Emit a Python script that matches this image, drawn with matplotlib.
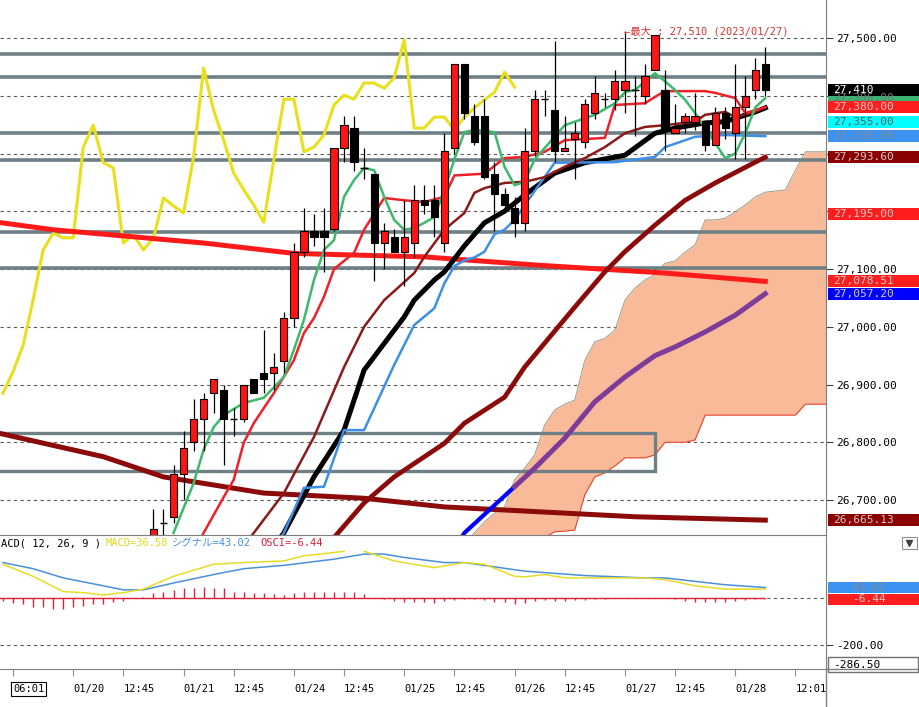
import matplotlib
matplotlib.use('Agg')
import matplotlib.pyplot as plt
from matplotlib.patches import Rectangle
from matplotlib.lines import Line2D
from matplotlib.transforms import blended_transform_factory

plt.rcParams['font.family'] = ['DejaVu Sans Mono', 'Noto Sans CJK JP']

# Candles (bar index 15 .. 76)
first_bar = 15
opens = [26620, 26660, 26670, 26745, 26800, 26840, 26885, 26890, 26840, 26840, 26910, 26920, 26920, 26940,
         27015, 27130, 27165, 27165, 27170, 27310, 27345, 27275, 27265, 27145, 27155, 27130, 27145, 27220,
         27220, 27145, 27310, 27455, 27365, 27365, 27265, 27230, 27205, 27180, 27305, 27395, 27375, 27305,
         27325, 27320, 27370, 27395, 27395, 27410, 27410, 27400, 27445, 27410, 27335, 27355, 27355, 27355,
         27315, 27370, 27335, 27380, 27410, 27455]
highs = [26685, 26685, 26760, 26820, 26875, 26885, 26910, 26900, 26860, 26900, 26910, 26995, 26955, 27025,
         27145, 27205, 27195, 27205, 27310, 27365, 27365, 27310, 27265, 27180, 27170, 27220, 27245, 27245,
         27245, 27335, 27455, 27455, 27385, 27395, 27285, 27240, 27225, 27345, 27410, 27410, 27495, 27365,
         27355, 27395, 27435, 27405, 27445, 27510, 27435, 27455, 27505, 27445, 27385, 27370, 27405, 27355,
         27380, 27380, 27455, 27435, 27465, 27485]
lows = [26615, 26620, 26660, 26700, 26785, 26785, 26850, 26760, 26810, 26835, 26885, 26885, 26890, 26920,
        27000, 27120, 27140, 27095, 27165, 27285, 27270, 27255, 27080, 27100, 27130, 27070, 27120, 27195,
        27155, 27130, 27300, 27360, 27315, 27255, 27165, 27200, 27155, 27165, 27295, 27365, 27285, 27305,
        27255, 27310, 27360, 27380, 27375, 27370, 27330, 27385, 27445, 27305, 27335, 27335, 27340, 27305,
        27315, 27325, 27290, 27290, 27395, 27400]
closes = [26650, 26660, 26745, 26790, 26840, 26875, 26910, 26840, 26840, 26900, 26885, 26910, 26930, 27015,
          27130, 27165, 27155, 27155, 27310, 27350, 27285, 27275, 27145, 27165, 27130, 27155, 27220, 27210,
          27190, 27305, 27455, 27370, 27320, 27260, 27230, 27210, 27180, 27305, 27395, 27395, 27305, 27310,
          27335, 27385, 27405, 27395, 27425, 27425, 27410, 27435, 27505, 27340, 27345, 27365, 27365, 27315,
          27370, 27345, 27380, 27400, 27445, 27410]

# Overlay line (yellow), one value per bar from bar 0
yellow_vals = [26885, 26922, 26968, 27046, 27133, 27162, 27154, 27154, 27311, 27349, 27284, 27275, 27145,
               27159, 27133, 27154, 27223, 27209, 27197, 27294, 27448, 27375, 27323, 27266, 27237, 27211,
               27181, 27289, 27394, 27394, 27303, 27311, 27332, 27384, 27401, 27394, 27422, 27422, 27413,
               27431, 27497, 27344, 27344, 27363, 27363, 27341, 27363, 27379, 27393, 27406, 27441, 27415]

# Moving averages read at bar positions
red_long_bars = [-1, 5, 20, 29, 42, 53, 66, 76]
red_long_vals = [27182, 27168, 27145, 27127, 27121, 27107, 27093, 27078.51]
dkred_long_bars = [-1, 10, 16, 26, 36, 44, 53, 63, 76]
dkred_long_vals = [26818, 26775, 26740, 26712, 26703, 26688, 26680, 26671, 26665.13]
dkred_mid_bars = [32, 36, 39, 44, 46, 50, 52, 57, 60, 62, 65, 68, 71, 75, 76]
dkred_mid_vals = [26615, 26695, 26740, 26798, 26833, 26878, 26930, 27034, 27095, 27130, 27176, 27219, 27249,
                  27285, 27293.60]
purple_bars = [51, 53, 56, 59, 62, 65, 67, 70, 73, 76]
purple_vals = [26723, 26755, 26807, 26870, 26913, 26950, 26965, 26991, 27020, 27057.20]
blue_bars = [45, 46, 51]
blue_vals = [26615, 26643, 26723]
black_bars = [27, 28, 31, 34, 36, 40, 41, 43, 44, 46, 48, 50, 52, 55, 58, 62, 65, 67, 70, 72, 73, 75, 76]
black_vals = [26620, 26643, 26740, 26821, 26925, 27017, 27046, 27081, 27095, 27140, 27180, 27200, 27228,
              27266, 27284, 27297, 27335, 27344, 27353, 27355, 27361, 27372, 27379]
ltblue_bars = [27, 28, 30, 32, 34, 36, 39, 41, 43, 44, 45, 46, 47, 48, 49, 50, 51, 52, 53, 55, 61, 65, 66,
               69, 72, 76]
ltblue_vals = [26620, 26643, 26721, 26723, 26821, 26821, 26934, 27003, 27032, 27075, 27105, 27115, 27120,
               27130, 27160, 27168, 27185, 27210, 27235, 27284, 27285, 27294, 27311, 27329, 27332, 27330]
redmid_bars = [19, 20, 22, 23, 24, 25, 27, 29, 30, 31, 32, 33, 35, 36, 38, 40, 42, 44, 45, 48, 50, 52, 54,
               56, 60, 61, 64, 65, 66, 70, 71, 73, 74, 76]
redmid_vals = [26610, 26643, 26705, 26735, 26799, 26833, 26885, 26942, 26989, 27015, 27052, 27100, 27128,
               27168, 27223, 27219, 27216, 27225, 27262, 27265, 27292, 27294, 27303, 27323, 27327, 27384,
               27387, 27398, 27408, 27408, 27405, 27396, 27370, 27380]
green_bars = [17, 19, 20, 21, 22, 24, 26, 28, 29, 30, 31, 32, 33, 34, 35, 36, 37, 38, 39, 40, 41, 42, 43,
              44, 45, 46, 47, 49, 50, 51, 52, 53, 55, 56, 57, 59, 61, 62, 63, 65, 66, 67, 68, 69, 71, 72,
              73, 74, 75, 76]
green_vals = [26643, 26729, 26787, 26826, 26847, 26868, 26877, 26913, 26960, 27012, 27081, 27133, 27150,
              27225, 27254, 27275, 27271, 27225, 27185, 27168, 27171, 27180, 27190, 27237, 27290, 27337,
              27341, 27337, 27277, 27245, 27251, 27290, 27329, 27349, 27355, 27367, 27387, 27406, 27410,
              27439, 27425, 27410, 27393, 27370, 27318, 27292, 27300, 27335, 27380, 27396]
dkred_thin_bars = [24, 25, 28, 31, 34, 36, 38, 41, 42, 44, 46, 47, 48, 50, 52, 54, 56, 58, 60, 62, 64, 66,
                   68, 69, 70, 72, 73, 75, 76]
dkred_thin_vals = [26620, 26643, 26712, 26809, 26930, 27000, 27046, 27093, 27121, 27168, 27197, 27232,
                   27240, 27249, 27251, 27259, 27277, 27292, 27311, 27335, 27346, 27349, 27353, 27355, 27367,
                   27372, 27363, 27372, 27380]

# Ichimoku cloud (runs ahead of the last bar)
cloud_bars = list(range(46, 83))
cloud_upper = [26625, 26643, 26662, 26677, 26688, 26735, 26755, 26778, 26830, 26856, 26866, 26873, 26942,
               26974, 26980, 26994, 27046, 27067, 27081, 27090, 27110, 27114, 27129, 27142, 27185, 27185,
               27188, 27199, 27211, 27225, 27233, 27235, 27237, 27271, 27303, 27303, 27303]
cloud_lower = [26590, 26600, 26610, 26615, 26620, 26625, 26630, 26632, 26635, 26645, 26646, 26648, 26709,
               26740, 26747, 26759, 26773, 26773, 26773, 26778, 26800, 26800, 26800, 26804, 26847, 26847,
               26847, 26847, 26847, 26847, 26847, 26847, 26847, 26847, 26866, 26866, 26866]

# Horizontal levels and box
levels = [27472, 27432, 27335, 27289, 27164, 27102]
box_bottom, box_top, box_end_bar = 26750, 26816, 65

# Right-side value tags: (value, text, face, text colour)
tags = [
    (27396, '27,396.00', '#3CB371', '#777777'),
    (27410, '27,410', '#000000', '#FFFFFF'),
    (27380, '27,380.00', '#FF1E1E', '#D8C8C8'),
    (27355, '27,355.00', '#00FFFF', '#606060'),
    (27330, '27,330.00', '#3A93F0', '#8A8A8A'),
    (27293.60, '27,293.60', '#8B0000', '#D0C8C8'),
    (27195, '27,195.00', '#FF1E1E', '#D8C8C8'),
    (27078.51, '27,078.51', '#FF1E1E', '#D8C8C8'),
    (27057.20, '27,057.20', '#0000FF', '#D0D0E0'),
    (26665.13, '26,665.13', '#8B0000', '#D0C8C8'),
]

# MACD panel
macd_bars = [0, 3, 6, 8, 10, 12, 14, 17, 21, 24, 28, 30, 34, 35, 36, 39, 43, 46, 48, 51, 52, 54, 56, 64,
             66, 69, 72, 74, 76]
macd_vals = [141.3, 90.7, 25.9, 21.6, 11.7, 21.6, 36.3, 90.7, 141.3, 148.6, 155.5, 177.1, 196.1, None,
             196.1, 155.5, 127.0, 148.6, 141.3, 90.7, 88.1, 98.0, 83.8, 83.8, 76.5, 50.5, 36.3, 36.3, 36.58]
signal_bars = [0, 3, 6, 10, 12, 14, 17, 21, 24, 28, 33, 36, 38, 40, 44, 46, 52, 58, 64, 66, 69, 72, 76]
signal_vals = [148.6, 122.7, 83.8, 50.5, 33.3, 33.3, 62.2, 98.0, 122.7, 136.9, 162.9, 184.4, 184.4, 170.2,
               148.6, 148.6, 112.3, 93.7, 83.8, 83.8, 69.1, 54.9, 43.02]
osci_vals = [-13, -21.6, -27, -39, -39, -47.5, -47.5, -39, -36, -27, -24.5, -17, -13, -2, 2,
             18.7, 26, 33, 40, 40, 44.6, 40, 40, 26, 23, 18.7, 18.7, 15.8, 11.5, 18.7, 23, 23, 23, 23,
             26, 23, 15.8, 1, -4, -13, -17, -17, -17, -21.6, -13, -8, -4, -6, -10, -17, -17, -24.5,
             -21.6, -13, -10, -13, -13, -10, -10, -7, -4, -3, -2, -1, 1, -1, -3, -5, -13, -17, -17,
             -17, -17, -13, -10, -7, -6.44]

tick_bars = [1, 7, 12, 18, 23, 29, 34, 40, 45, 51, 56, 62, 67, 73, 79]
tick_labels = ['06:01', '01/20', '12:45', '01/21', '12:45', '01/24', '12:45', '01/25', '12:45', '01/26',
               '12:45', '01/27', '12:45', '01/28', '12:01']
price_ticks = list(range(26700, 27600, 100))
price_labels = ['26,700.00', '26,800.00', '26,900.00', '27,000.00', '27,100.00', '', '', '', '27,500.00']

W, H = 920.0, 707.0
fig = plt.figure(figsize=(9.2, 7.07), dpi=100)
ax = fig.add_axes([0, 1 - 535 / H, 826 / W, 535 / H])
mx = fig.add_axes([0, 1 - 669 / H, 826 / W, (669 - 535) / H])
xlim = (-0.3, 82.05)
axis_col = '#7F7F7F'
grid_col = '#5A5A5A'

# ---- price panel ----
ax.set_xlim(*xlim)
ax.set_ylim(26639.4, 27565.8)
for p in price_ticks:
    ax.axhline(p, color=grid_col, lw=0.8, ls=(0, (3, 3)), zorder=0.5)

ax.fill_between(cloud_bars, cloud_lower, cloud_upper, color='#F9BA9A', lw=0, zorder=1)
ax.plot(cloud_bars, cloud_upper, color='#9C9C82', lw=0.7, zorder=1.1)
ax.plot(cloud_bars, cloud_lower, color='#E23A2A', lw=0.7, zorder=1.1)

for lvl in levels:
    ax.axhline(lvl, color='#6E7F86', lw=2.6, zorder=2)
ax.add_patch(Rectangle((-5, box_bottom), box_end_bar + 5, box_top - box_bottom, fill=False,
                       edgecolor='#6E7F86', lw=2.4, zorder=2))

ax.plot(range(len(yellow_vals)), yellow_vals, color='#E8E01C', lw=2.2, zorder=3)
ax.plot(red_long_bars, red_long_vals, color='#FF1A1A', lw=3.6, zorder=3)
ax.plot(dkred_long_bars, dkred_long_vals, color='#8B0A0A', lw=3.6, zorder=3)
ax.plot(blue_bars, blue_vals, color='#0000FF', lw=3.0, zorder=3)
ax.plot(purple_bars, purple_vals, color='#7D3C98', lw=3.6, zorder=3)
ax.plot(dkred_mid_bars, dkred_mid_vals, color='#8B0A0A', lw=3.4, zorder=3)
ax.plot(black_bars, black_vals, color='black', lw=3.6, zorder=3)
ax.plot(ltblue_bars, ltblue_vals, color='#3D8FE8', lw=1.8, zorder=3)
ax.plot(dkred_thin_bars, dkred_thin_vals, color='#8B1A1A', lw=1.8, zorder=3)
ax.plot(redmid_bars, redmid_vals, color='#F0202A', lw=1.8, zorder=3)
ax.plot(green_bars, green_vals, color='#3CB96A', lw=1.8, zorder=3)

bw = 0.72
for i, (o, h, l, c) in enumerate(zip(opens, highs, lows, closes)):
    k = first_bar + i
    ax.vlines(k, l, h, color='black', lw=0.9, zorder=5)
    if o == c:
        ax.hlines(o, k - bw / 2, k + bw / 2, color='black', lw=1.0, zorder=6)
    else:
        face = '#FF1414' if c > o else 'black'
        ax.add_patch(Rectangle((k - bw / 2, min(o, c)), bw, abs(c - o), facecolor=face,
                               edgecolor='black', lw=0.8, zorder=6))

ax.text(61.9, 27512, '←最大 : 27,510 (2023/01/27)', color='#D83434', fontsize=7.5,
        ha='left', va='center', zorder=7)

for s in ['left', 'top', 'bottom']:
    ax.spines[s].set_visible(False)
ax.spines['right'].set_color(axis_col)
ax.set_xticks([])
ax.yaxis.tick_right()
ax.set_yticks(price_ticks)
ax.set_yticklabels(price_labels)
ax.tick_params(axis='y', length=5, width=0.8, color='#404040', pad=2, labelsize=8)

tr = blended_transform_factory(ax.transAxes, ax.transData)
box_w = 91 / 826
tag_h = 12 / 0.5775
for val, txt, face, tcol in tags:
    patch = Rectangle((1.002, val - tag_h / 2), box_w, tag_h, transform=tr, facecolor=face,
                      edgecolor='none', clip_on=False, zorder=8)
    ax.add_patch(patch)
    t = ax.text(1.0 + 7 / 826, val, txt, transform=tr, color=tcol, fontsize=8, ha='left', va='center',
                zorder=9)
    t.set_clip_path(patch)

# ---- MACD panel ----
mx.set_xlim(*xlim)
mx.set_ylim(-301, 265)
mx.axhline(0, color=grid_col, lw=0.8, ls=(0, (3, 3)), zorder=0.5)
mx.axhline(-200, color=grid_col, lw=0.8, ls=(0, (3, 3)), zorder=0.5)
mx.hlines(0, -1, first_bar + len(opens) - 1, color='#E0203A', lw=1.0, zorder=1)
mx.vlines(range(len(osci_vals)), 0, osci_vals, color='#E0203A', lw=1.0, zorder=1)
mx.plot(signal_bars, signal_vals, color='#4A90D9', lw=1.1, zorder=2)
mx.plot(macd_bars, [float('nan') if v is None else v for v in macd_vals], color='#E6DC28', lw=1.1, zorder=3)

mx.spines['left'].set_visible(False)
for s in ['top', 'bottom', 'right']:
    mx.spines[s].set_color(axis_col)
mx.yaxis.tick_right()
mx.set_yticks([-200])
mx.set_yticklabels(['-200.00'])
mx.tick_params(axis='y', length=5, width=0.8, color='#404040', pad=2, labelsize=8)
mx.set_xticks(tick_bars)
mx.set_xticklabels(tick_labels, ha='left')
mx.tick_params(axis='x', length=5, width=0.8, color='#909090', pad=6, labelsize=7.5)
mx.get_xticklabels()[0].set_bbox(dict(facecolor='none', edgecolor='black', pad=1.5, lw=0.8))

trm = blended_transform_factory(mx.transAxes, mx.transData)
mtag_h = 11 / 0.2365
for val, txt, face, tcol in [(43.02, '43.02', '#3A93F0', '#8A8A8A'), (-6.44, '-6.44', '#FF1E1E', '#D8C8C8')]:
    mx.add_patch(Rectangle((1.002, val - mtag_h / 2), box_w, mtag_h, transform=trm, facecolor=face,
                           edgecolor='none', clip_on=False, zorder=8))
    mx.text(1.0 + 26 / 826, val, txt, transform=trm, color=tcol, fontsize=8, ha='left', va='center',
            clip_on=False, zorder=9)

# bottom value box and dropdown icon
fig.patches.append(Rectangle((828 / W, 1 - 672 / H), 90 / W, 15 / H, transform=fig.transFigure,
                             facecolor='white', edgecolor='#707070', lw=1))
fig.text(833 / W, 1 - 665 / H, '-286.50', fontsize=8, ha='left', va='center')
fig.patches.append(Rectangle((902 / W, 1 - 549 / H), 15 / W, 12 / H, transform=fig.transFigure,
                             facecolor='white', edgecolor='#909090', lw=0.8))
fig.lines.append(Line2D([909.5 / W], [1 - 543 / H], marker='v', markersize=5, color='#404040',
                        transform=fig.transFigure))
fig.lines.append(Line2D([826 / W, 826 / W], [0, 1 - 669 / H], color=axis_col, lw=1,
                        transform=fig.transFigure))
fig.lines.append(Line2D([826 / W, 1], [1 - 669 / H, 1 - 669 / H], color=axis_col, lw=1,
                        transform=fig.transFigure))

# MACD header (left edge of the panel cuts the leading "M")
hy = 1 - 543 / H
fig.text(1 / W, hy, 'ACD( 12, 26, 9 )', fontsize=7.5, color='black', ha='left', va='center')
fig.text(106 / W, hy, 'MACD=36.58', fontsize=7.5, color='#E0D820', ha='left', va='center')
fig.text(172 / W, hy, 'シグナル=43.02', fontsize=7.5, color='#4A90D9', ha='left', va='center')
fig.text(260 / W, hy, 'OSCI=-6.44', fontsize=7.5, color='#E0203A', ha='left', va='center')

fig.savefig('out.png', dpi=100, facecolor='white')
